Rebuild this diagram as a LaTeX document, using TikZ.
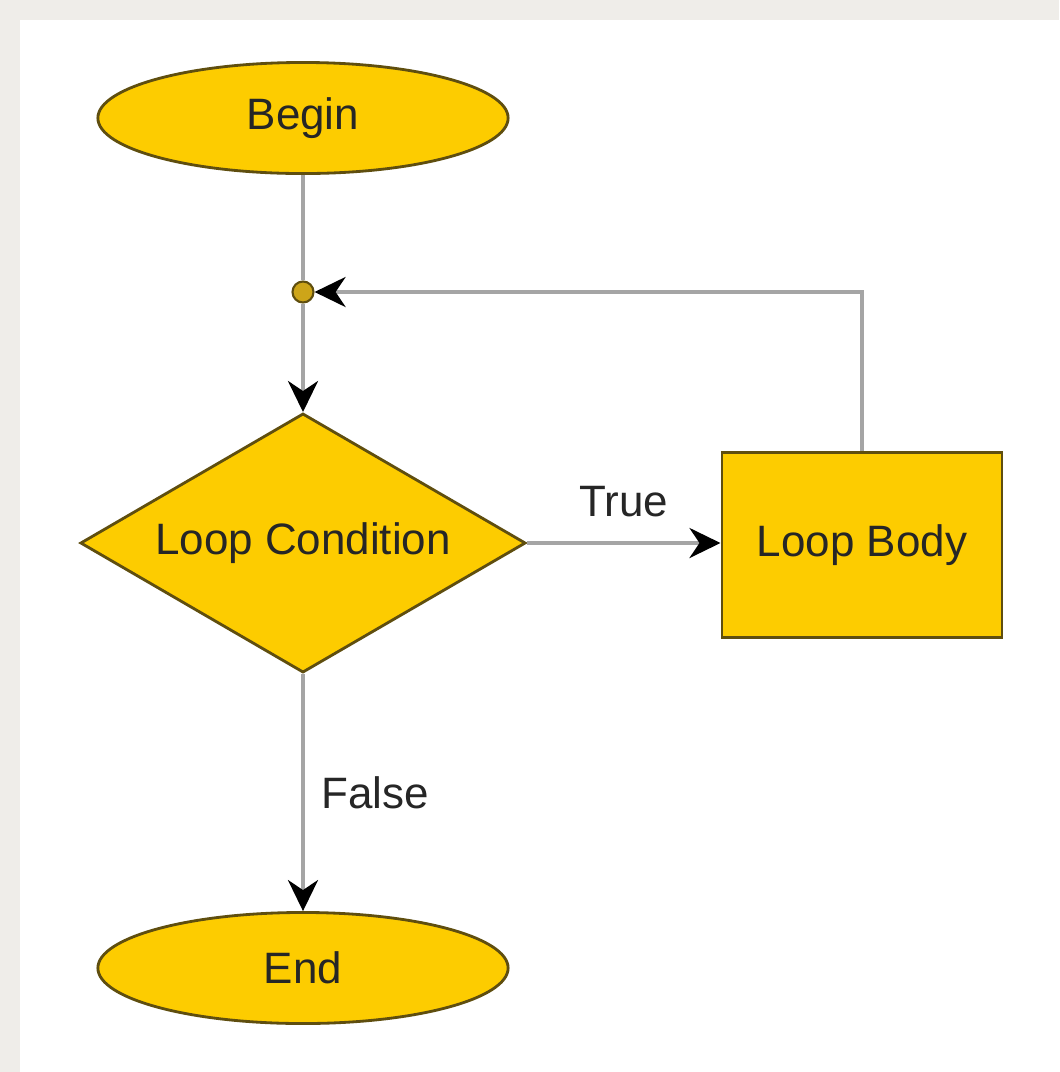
\documentclass[tikz,border=0pt]{standalone}
\usepackage{fontspec}
\setmainfont{Liberation Sans}
\usetikzlibrary{shapes.geometric,arrows.meta}

\definecolor{gold}{RGB}{253,204,0}
\definecolor{goldedge}{RGB}{95,78,15}
\definecolor{dotfill}{RGB}{205,165,25}
\definecolor{wire}{RGB}{165,165,165}
\definecolor{paper}{RGB}{239,237,233}

\begin{document}
\begin{tikzpicture}[
    x=0.01cm, y=-0.01cm,
    every node/.style={font=\fontsize{12.5}{15}\selectfont, text=black!85},
    terminal/.style={ellipse, draw=goldedge, fill=gold, line width=0.8pt, minimum width=4.1cm, minimum height=1.11cm},
    decision/.style={diamond, draw=goldedge, fill=gold, line width=0.8pt, aspect=1.72, inner sep=0pt, minimum width=4.45cm, minimum height=2.59cm},
    process/.style={rectangle, draw=goldedge, fill=gold, line width=0.8pt, minimum width=2.8cm, minimum height=1.85cm},
    junction/.style={circle, draw=goldedge, fill=dotfill, line width=0.6pt, inner sep=0pt, minimum size=0.21cm},
    wire/.style={draw=wire, line width=1.1pt},
    arrow/.style={wire, -{Stealth[length=0.31cm, width=0.3cm, inset=0.1cm, color=black]}}
]
    % --- page background ---
    \fill[paper] (0,0) rectangle (1059,1072);
    \fill[white] (20,20) rectangle (1059,1072);
    \useasboundingbox (0,0) rectangle (1059,1072);

    % --- flowchart blocks ---
    \node[terminal] (begin) at (303,118) {Begin};
    \node[junction] (join) at (303,292) {};
    \node[decision] (cond) at (303,543) {Loop Condition};
    \node[process] (body) at (862,545) {Loop Body};
    \node[terminal] (finish) at (303,968) {End};

    % --- connectors ---
    \draw[wire] (begin.south) -- (join.north);
    \draw[arrow] (join.south) -- (cond.north);
    \draw[arrow] (cond.east) -- node[above=0.12cm] (truelbl) {True} (cond.east -| body.west);
    \draw[arrow] (body.north) |- (join.east);
    \draw[arrow] (cond.south) -- node[right=0.05cm] (falselbl) {False} (finish.north);
\end{tikzpicture}
\end{document}
